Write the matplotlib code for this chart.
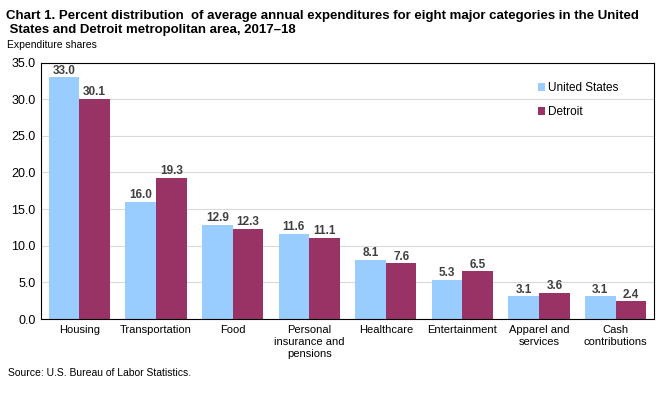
import numpy as np
import matplotlib.pyplot as plt

plt.rcParams['font.family'] = ['Liberation Sans', 'DejaVu Sans']

# DATA
categories = ['Housing', 'Transportation', 'Food', 'Personal\ninsurance and\npensions',
              'Healthcare', 'Entertainment', 'Apparel and\nservices', 'Cash\ncontributions']
us_vals = [33.0, 16.0, 12.9, 11.6, 8.1, 5.3, 3.1, 3.1]
detroit_vals = [30.1, 19.3, 12.3, 11.1, 7.6, 6.5, 3.6, 2.4]
y_ticks = [0, 5, 10, 15, 20, 25, 30, 35]

us_color = '#99ccff'
det_color = '#993366'

fig = plt.figure(figsize=(6.69, 3.96), dpi=100)
ax = fig.add_axes([0.0613, 0.1944, 0.9162, 0.6475])

x = np.arange(len(categories))
w = 0.4
b1 = ax.bar(x - w/2, us_vals, w, color=us_color, label='United States', zorder=2)
b2 = ax.bar(x + w/2, detroit_vals, w, color=det_color, label='Detroit', zorder=2)

# value labels
for bars, vals in [(b1, us_vals), (b2, detroit_vals)]:
    for b, v in zip(bars, vals):
        ax.text(b.get_x() + b.get_width()/2, v + 0.1, f'{v:.1f}', ha='center', va='bottom',
                fontsize=8.5, fontweight='bold', color='#404040')

ax.set_xlim(-0.5, len(categories) - 0.5)
ax.set_ylim(0, 35)
ax.set_yticks(y_ticks)
ax.set_yticklabels([f'{t:.1f}' for t in y_ticks], fontsize=9)
ax.set_xticks(x)
ax.set_xticklabels(categories, fontsize=8, linespacing=1.3)
ax.tick_params(axis='both', length=0, pad=4)
ax.yaxis.grid(True, color='#d9d9d9', linewidth=0.8, zorder=0)
for s in ax.spines.values():
    s.set_color('black')
    s.set_linewidth(0.8)

ax.legend(loc='upper right', bbox_to_anchor=(0.96, 0.965), frameon=False, fontsize=8.5,
          handlelength=0.6, handleheight=0.6, handletextpad=0.3, labelspacing=1.0)

fig.text(0.009, 0.942, 'Chart 1. Percent distribution  of average annual expenditures for eight major categories in the United\n States and Detroit metropolitan area, 2017\u201318',
         fontsize=9.5, fontweight='bold', va='center', ha='left', linespacing=1.2)
fig.text(0.011, 0.887, 'Expenditure shares', fontsize=7.5, va='center')
fig.text(0.012, 0.058, 'Source: U.S. Bureau of Labor Statistics.', fontsize=7.5, va='center')

fig.savefig('out.png', dpi=100)
